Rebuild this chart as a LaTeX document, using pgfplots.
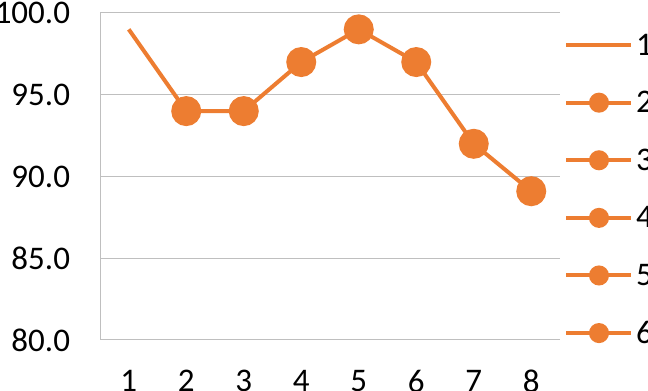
\documentclass[border=0pt]{standalone}
\usepackage{pgfplots}
\pgfplotsset{compat=1.18}
\usepackage{fontspec}
\setmainfont{Carlito}
\definecolor{org}{HTML}{ED7D31}
\definecolor{grd}{HTML}{BFBFBF}
\begin{document}
\begin{tikzpicture}
\useasboundingbox (0,0) rectangle (648bp,391bp);
\begin{axis}[
  at={(100bp,51bp)}, anchor=south west,
  scale only axis, width=460bp, height=327bp,
  xmin=0.5, xmax=8.5, ymin=80, ymax=100,
  xtick={1,2,3,4,5,6,7,8}, ytick={80,85,90,95,100},
  axis lines=left, axis line style={grd, line width=1bp, -},
  ymajorgrids, grid style={grd, line width=1bp},
  major tick length=0pt,
  /pgf/number format/assume math mode=true,
  tick label style={font=\fontsize{33bp}{40bp}\selectfont, inner sep=0pt, outer sep=0pt},
  yticklabel style={/pgf/number format/.cd, fixed, fixed zerofill, precision=1, /tikz/.cd, anchor=east, xshift=-30bp},
  xticklabel style={anchor=north, yshift=-30bp},
  legend image code/.code={
    \path[draw=none, fill=none] (0bp,-18.8bp) rectangle (70bp,38.8bp);
    \draw[mark repeat=2, mark phase=2, #1] plot coordinates {(0bp,10bp) (33bp,10bp) (65bp,10bp)};
  },
  legend style={at={(rel axis cs:1.0087,0.990)}, anchor=north west, draw=none, fill=none,
    inner sep=0pt, outer sep=0pt, row sep=0pt,
    nodes={inner sep=0pt, outer sep=0pt, anchor=base west},
    font=\fontsize{33bp}{40bp}\selectfont},
  legend cell align=left,
]
\addplot[org, line width=4bp, mark=*, mark size=13bp, mark options={solid, fill=org}, mark indices={2,3,4,5,6,7,8}, forget plot]
  coordinates {(1,99) (2,94) (3,94) (4,97) (5,99) (6,97) (7,92) (8,89.1)};
\addlegendimage{org, line width=4bp}
\addlegendentry{1}
\addlegendimage{org, line width=4bp, mark=*, mark size=8bp, mark options={solid, fill=org}}
\addlegendentry{2}
\addlegendimage{org, line width=4bp, mark=*, mark size=8bp, mark options={solid, fill=org}}
\addlegendentry{3}
\addlegendimage{org, line width=4bp, mark=*, mark size=8bp, mark options={solid, fill=org}}
\addlegendentry{4}
\addlegendimage{org, line width=4bp, mark=*, mark size=8bp, mark options={solid, fill=org}}
\addlegendentry{5}
\addlegendimage{org, line width=4bp, mark=*, mark size=8bp, mark options={solid, fill=org}}
\addlegendentry{6}
\end{axis}
\end{tikzpicture}
\end{document}
